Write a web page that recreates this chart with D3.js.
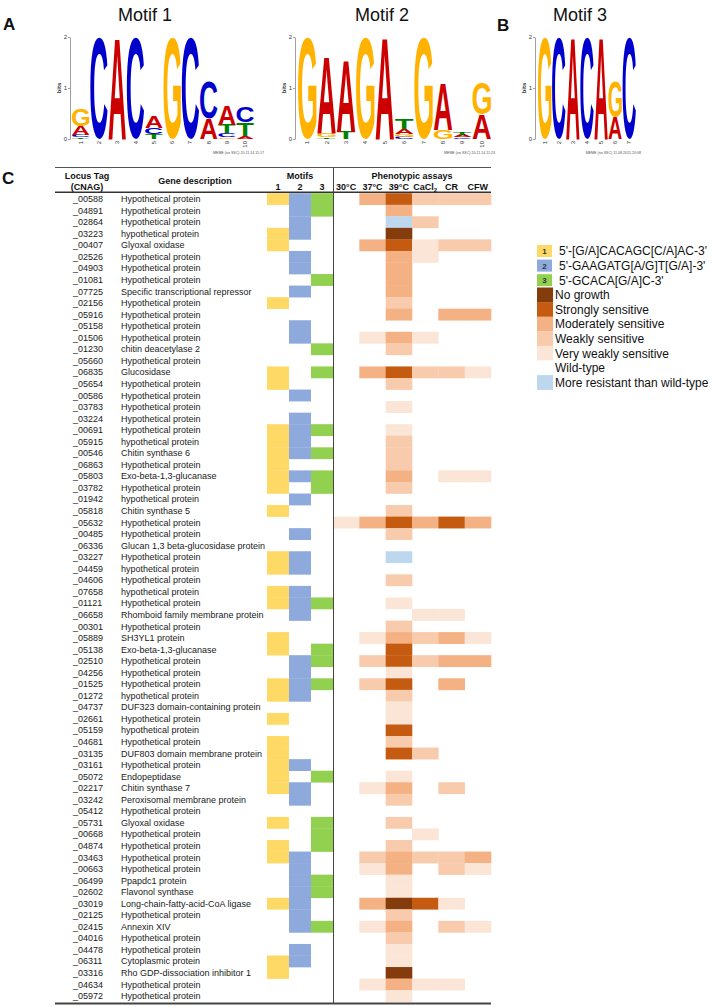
<!DOCTYPE html>
<html><head><meta charset="utf-8">
<script src="https://cdn.jsdelivr.net/npm/d3@7"></script>
<style>body{margin:0;background:#fff} svg{display:block}</style>
</head><body><svg id="c" width="712" height="1007"></svg>
<script>
// ---------------- DATA ----------------
const locusTags = ["_00588","_04891","_02864","_03223","_00407","_02526","_04903","_01081","_07725","_02156",
"_05916","_05158","_01506","_01230","_05660","_06835","_05654","_00586","_03783","_03224",
"_00691","_05915","_00546","_06863","_05803","_03782","_01942","_05818","_05632","_00485",
"_06336","_03227","_04459","_04606","_07658","_01121","_06658","_00301","_05889","_05138",
"_02510","_04256","_01525","_01272","_04737","_02661","_05159","_04681","_03135","_03161",
"_05072","_02217","_03242","_05412","_05731","_00668","_04874","_03463","_00663","_06499",
"_02602","_03019","_02125","_02415","_04016","_04478","_06311","_03316","_04634","_05972"];
const descriptions = ["Hypothetical protein","Hypothetical protein","Hypothetical protein","hypothetical protein","Glyoxal oxidase","Hypothetical protein","Hypothetical protein","Hypothetical protein","Specific transcriptional repressor","Hypothetical protein",
"Hypothetical protein","Hypothetical protein","Hypothetical protein","chitin deacetylase 2","Hypothetical protein","Glucosidase","Hypothetical protein","Hypothetical protein","Hypothetical protein","Hypothetical protein",
"Hypothetical protein","hypothetical protein","Chitin synthase 6","Hypothetical protein","Exo-beta-1,3-glucanase","Hypothetical protein","hypothetical protein","Chitin synthase 5","Hypothetical protein","Hypothetical protein",
"Glucan 1,3 beta-glucosidase protein","Hypothetical protein","hypothetical protein","Hypothetical protein","hypothetical protein","Hypothetical protein","Rhomboid family membrane protein","Hypothetical protein","SH3YL1 protein","Exo-beta-1,3-glucanase",
"Hypothetical protein","Hypothetical protein","Hypothetical protein","hypothetical protein","DUF323 domain-containing protein","Hypothetical protein","hypothetical protein","Hypothetical protein","DUF803 domain membrane protein","Hypothetical protein",
"Endopeptidase","Chitin synthase 7","Peroxisomal membrane protein","Hypothetical protein","Glyoxal oxidase","Hypothetical protein","Hypothetical protein","Hypothetical protein","Hypothetical protein","Ppapdc1 protein",
"Flavonol synthase","Long-chain-fatty-acid-CoA ligase","Hypothetical protein","Annexin XIV","Hypothetical protein","Hypothetical protein","Cytoplasmic protein","Rho GDP-dissociation inhibitor 1","Hypothetical protein","Hypothetical protein"];
// motif presence (1 = present)
const motif1 = [1,0,0,1,1,0,0,0,0,1, 0,0,0,0,0,1,1,0,0,0, 1,1,1,1,1,1,0,1,0,0, 0,1,1,0,1,1,0,0,1,1, 0,0,1,1,0,1,0,1,1,1, 1,1,0,0,1,0,1,1,0,0, 0,1,0,0,0,0,1,1,0,0];
const motif2 = [1,1,1,1,0,1,1,0,1,0, 0,1,1,0,0,0,0,1,0,1, 1,1,1,0,1,0,1,0,0,1, 0,1,1,0,1,1,1,0,0,0, 1,1,1,1,0,0,0,0,0,1, 0,1,1,0,0,0,0,1,1,1, 1,1,1,1,0,1,1,0,0,0];
const motif3 = [1,1,0,0,0,0,0,1,0,0, 0,0,0,1,0,1,0,0,0,0, 1,0,1,0,1,1,0,0,0,0, 0,0,0,0,0,1,0,0,0,1, 1,0,1,0,0,0,0,0,0,0, 1,0,0,0,1,1,1,0,0,1, 1,0,0,1,0,0,0,0,0,0];
const motifLabels = ["1","2","3"];
// phenotype codes: 5 no growth, 4 strong, 3 moderate, 2 weak, 1 very weak, 0 wild-type, -1 more resistant
const assays = ["30°C","37°C","39°C","CaCl2","CR","CFW"];
const p30   = [0,0,0,0,0,0,0,0,0,0, 0,0,0,0,0,0,0,0,0,0, 0,0,0,0,0,0,0,0,1,0, 0,0,0,0,0,0,0,0,0,0, 0,0,0,0,0,0,0,0,0,0, 0,0,0,0,0,0,0,0,0,0, 0,0,0,0,0,0,0,0,0,0];
const p37   = [3,0,0,0,3,0,0,0,0,0, 0,0,1,0,0,3,0,0,0,0, 0,0,0,0,0,0,0,0,3,0, 0,0,0,0,0,0,0,0,1,0, 2,0,2,0,0,0,0,0,0,0, 0,1,0,0,0,0,0,2,1,0, 0,3,0,1,0,0,0,0,1,0];
const p39   = [4,3,-1,5,4,3,3,3,3,2, 3,0,3,2,0,4,2,0,1,0, 1,2,2,2,3,2,0,2,4,2, 0,-1,0,2,0,1,0,2,3,4, 4,1,4,2,1,1,4,2,4,0, 1,3,2,0,2,0,2,3,3,1, 1,5,2,3,2,1,1,5,3,1];
const pCaCl2= [2,0,2,0,1,1,0,0,0,0, 0,0,1,0,0,2,0,0,0,0, 0,0,0,0,0,0,0,0,3,0, 0,0,0,0,0,0,1,0,2,0, 2,0,0,0,0,0,0,0,2,0, 0,0,0,0,0,1,0,2,0,0, 0,4,0,0,0,0,0,0,1,0];
const pCR   = [2,0,0,0,2,0,0,0,0,0, 3,0,0,0,0,2,0,0,0,0, 0,0,0,0,1,0,0,0,4,0, 0,0,0,0,0,0,1,0,3,0, 3,0,3,0,0,0,0,0,0,0, 0,2,0,0,0,0,0,2,2,0, 0,1,0,2,0,0,0,0,1,0];
const pCFW  = [2,0,0,0,2,0,0,0,0,0, 3,0,0,0,0,1,0,0,0,0, 0,0,0,0,1,0,0,0,3,0, 0,0,0,0,0,0,0,0,1,0, 3,0,0,0,0,0,0,0,0,0, 0,0,0,0,0,0,0,3,1,0, 0,0,0,1,0,0,0,0,0,0];
const motifConsensus = ["5'-[G/A]CACAGC[C/A]AC-3'","5'-GAAGATG[A/G]T[G/A]-3'","5'-GCACA[G/A]C-3'"];
const levelCodes = [5,4,3,2,1,0,-1];
const levelNames = ["No growth","Strongly sensitive","Moderately sensitive","Weakly sensitive","Very weakly sensitive","Wild-type","More resistant than wild-type"];
// sequence logos: per position, letters bottom->top with height in bits
const logo1 = [[["T",0.03],["C",0.05],["A",0.18],["G",0.34]],[["C",1.98]],[["A",1.98]],[["C",1.98]],
  [["T",0.1],["C",0.12],["A",0.23]],[["G",1.98]],[["C",1.98]],[["A",0.4],["C",0.72]],
  [["G",0.03],["C",0.08],["T",0.17],["A",0.38]],[["A",0.06],["T",0.26],["C",0.32]]];
const logo2 = [[["G",1.98]],[["T",0.03],["G",0.08],["A",1.5]],[["T",0.14],["A",1.4]],[["G",1.98]],[["A",1.98]],
  [["C",0.04],["G",0.05],["A",0.1],["T",0.2]],[["G",1.98]],[["G",0.18],["A",0.91]],
  [["C",0.03],["A",0.04],["T",0.06]],[["A",0.48],["G",0.61]]];
const logo3 = [[["G",1.98]],[["C",1.98]],[["A",1.98]],[["C",1.98]],[["A",1.98]],[["A",0.43],["G",0.7]],[["C",1.98]]];

// ---------------- DRAW ----------------
const FONT = "'Liberation Sans', Arial, Helvetica, sans-serif";
const svg = d3.select("#c");
const motifColor = ["#FFD966","#8EA9DB","#92D050"];
const phenoColor = d3.scaleOrdinal().domain(levelCodes)
  .range(["#843C0C","#C55A11","#F4B183","#F8CBAD","#FBE5D6","#FFFFFF","#BDD7EE"]);
const letterColor = {A:"#CC0000", C:"#0000CC", G:"#FFB300", T:"#008000"};

// glyph ink metrics
const ctx = document.createElement("canvas").getContext("2d");
ctx.font = "bold 100px 'Liberation Sans'";
const gm = {};
["A","C","G","T"].forEach(l => gm[l] = ctx.measureText(l));

function drawLogo(data, axisX, x0, x1, title, titleX, credit, creditX) {
  const g = svg.append("g");
  const y = d3.scaleLinear().domain([0,2]).range([139,37]);
  const x = d3.scaleBand().domain(d3.range(1, data.length+1)).range([x0,x1]).paddingInner(0.05);
  g.append("text").attr("x", titleX).attr("y", 21).attr("text-anchor","middle")
    .attr("font-family", FONT).attr("font-size", 18).attr("fill","#111").text(title);
  const ax = g.append("g").attr("transform", `translate(${axisX},0)`)
    .call(d3.axisLeft(y).tickValues([0,1,2]).tickSize(2).tickSizeOuter(0).tickPadding(1).tickFormat(d3.format("d")));
  ax.select(".domain").attr("stroke","#777").attr("stroke-width",0.7);
  ax.selectAll(".tick line").attr("stroke","#777").attr("stroke-width",0.7);
  ax.selectAll(".tick text").attr("font-size",6).attr("font-family",FONT).attr("fill","#333");
  g.append("text").attr("transform", `translate(${axisX-9},${y(1)}) rotate(-90)`).attr("text-anchor","middle")
    .attr("font-family",FONT).attr("font-size",6).attr("font-weight","bold").attr("fill","#333").text("bits");
  data.forEach((stack, i) => {
    let cum = 0;
    stack.forEach(([l, h]) => {
      const yb = y(cum), yt = y(cum + h);
      cum += h;
      const m = gm[l];
      const iw = m.actualBoundingBoxLeft + m.actualBoundingBoxRight;
      const ih = m.actualBoundingBoxAscent + m.actualBoundingBoxDescent;
      const sx = x.bandwidth() / iw, sy = (yb - yt) / ih;
      g.append("text").text(l).attr("font-family",FONT).attr("font-weight","bold").attr("font-size",100)
        .attr("x", m.actualBoundingBoxLeft).attr("y", -m.actualBoundingBoxDescent)
        .attr("fill", letterColor[l])
        .attr("transform", `translate(${x(i+1)},${yb}) scale(${sx},${sy})`);
    });
    g.append("text").attr("transform", `translate(${x(i+1)+x.bandwidth()/2+2},${141}) rotate(-90)`)
      .attr("text-anchor","end").attr("font-family",FONT).attr("font-size",6).attr("fill","#333").text(i+1);
  });
  g.append("text").attr("x", creditX).attr("y", 154).attr("text-anchor","end")
    .attr("font-family",FONT).attr("font-size",3.6).attr("fill","#555").text(credit);
}
drawLogo(logo1, 70, 72, 254, "Motif 1", 145, "MEME (no SSC) 20.11.14 11:17", 264);
drawLogo(logo2, 295, 298, 491, "Motif 2", 382, "MEME (no SSC) 20.11.14 11:24", 495);
drawLogo(logo3, 535, 538, 636, "Motif 3", 580, "MEME (no SSC) 11.08.2015 20:08", 641);

// panel labels
[["A",3,30],["B",497,31],["C",2,184]].forEach(([t,x,y]) =>
  svg.append("text").attr("x",x).attr("y",y).attr("font-family",FONT).attr("font-weight","bold")
    .attr("font-size",17).attr("fill","#111").text(t));

// ---------------- TABLE ----------------
const nRows = locusTags.length;
const rowY = d3.scaleBand().domain(d3.range(nRows)).range([193.2, 193.2 + nRows*11.55]);
const motifX = d3.scaleBand().domain(motifLabels).range([267, 333]);
const assayX = d3.scaleBand().domain(assays).range([333, 491]);
const tbl = svg.append("g");
const motifArrays = [motif1, motif2, motif3];
motifArrays.forEach((arr, mi) => {
  tbl.append("g").selectAll("rect").data(arr.map((v,i)=>({v,i})).filter(d=>d.v))
    .join("rect").attr("x", motifX(motifLabels[mi])).attr("width", motifX.bandwidth())
    .attr("y", d => rowY(d.i)).attr("height", rowY.bandwidth()+0.3).attr("fill", motifColor[mi]);
});
const phenoArrays = [p30, p37, p39, pCaCl2, pCR, pCFW];
phenoArrays.forEach((arr, ai) => {
  tbl.append("g").selectAll("rect").data(arr.map((v,i)=>({v,i})).filter(d=>d.v!==0))
    .join("rect").attr("x", assayX(assays[ai])).attr("width", assayX.bandwidth()+0.3)
    .attr("y", d => rowY(d.i)).attr("height", rowY.bandwidth()+0.3).attr("fill", d => phenoColor(d.v));
});
// row text
const txt = tbl.append("g").attr("font-family",FONT).attr("font-size",9).attr("fill","#1a1a1a");
txt.selectAll("text.lt").data(locusTags).join("text").attr("class","lt")
  .attr("x", 73).attr("y", (d,i) => rowY(i) + rowY.bandwidth()/2 + 3.2).text(d => d);
txt.selectAll("text.ds").data(descriptions).join("text").attr("class","ds")
  .attr("x", 121).attr("y", (d,i) => rowY(i) + rowY.bandwidth()/2 + 3.2).text(d => d);

// header
const hd = tbl.append("g").attr("font-family",FONT).attr("font-size",9).attr("font-weight","bold")
  .attr("fill","#111").attr("text-anchor","middle");
hd.append("text").attr("x",87).attr("y",178.5).text("Locus Tag");
hd.append("text").attr("x",87).attr("y",190.3).text("(CNAG)");
hd.append("text").attr("x",195).attr("y",184).text("Gene description");
hd.append("text").attr("x",300).attr("y",178.5).text("Motifs");
motifLabels.forEach(m => hd.append("text").attr("x", motifX(m)+motifX.bandwidth()/2).attr("y",190.3).text(m));
hd.append("text").attr("x",412).attr("y",178.5).text("Phenotypic assays");
assays.forEach(a => {
  const t = hd.append("text").attr("x", assayX(a)+assayX.bandwidth()/2).attr("y",190.3);
  if (a === "CaCl2") { t.append("tspan").text("CaCl"); t.append("tspan").attr("font-size",6).attr("dy",1.5).text("2"); }
  else t.text(a);
});
// rules
tbl.append("line").attr("x1",55).attr("x2",491).attr("y1",167.5).attr("y2",167.5).attr("stroke","#555").attr("stroke-width",1);
tbl.append("line").attr("x1",55).attr("x2",491).attr("y1",192.3).attr("y2",192.3).attr("stroke","#333").attr("stroke-width",1.4);
tbl.append("line").attr("x1",55).attr("x2",491).attr("y1",1003.5).attr("y2",1003.5).attr("stroke","#444").attr("stroke-width",2);
tbl.append("line").attr("x1",333.5).attr("x2",333.5).attr("y1",167).attr("y2",1003).attr("stroke","#444").attr("stroke-width",1);

// ---------------- LEGEND ----------------
const lg = svg.append("g").attr("font-family",FONT);
const legY = d3.scaleLinear().domain([0,1]).range([251, 265.6]);
motifConsensus.forEach((s, i) => {
  const cy = legY(i);
  lg.append("rect").attr("x",537).attr("y",cy-6).attr("width",15).attr("height",12).attr("fill",motifColor[i]);
  lg.append("text").attr("x",544.5).attr("y",cy+3).attr("text-anchor","middle").attr("font-size",8)
    .attr("font-weight","bold").attr("fill","#333").text(motifLabels[i]);
  lg.append("text").attr("x",559).attr("y",cy+4.3).attr("font-size",12).attr("fill","#111").text(s);
});
levelNames.forEach((s, j) => {
  const cy = legY(j + 3);
  lg.append("rect").attr("x",537).attr("y",cy-7.3).attr("width",16).attr("height",14.8).attr("fill",phenoColor(levelCodes[j]));
  lg.append("text").attr("x",555).attr("y",cy+4.3).attr("font-size",12).attr("fill","#111").text(s);
});
</script></body></html>
